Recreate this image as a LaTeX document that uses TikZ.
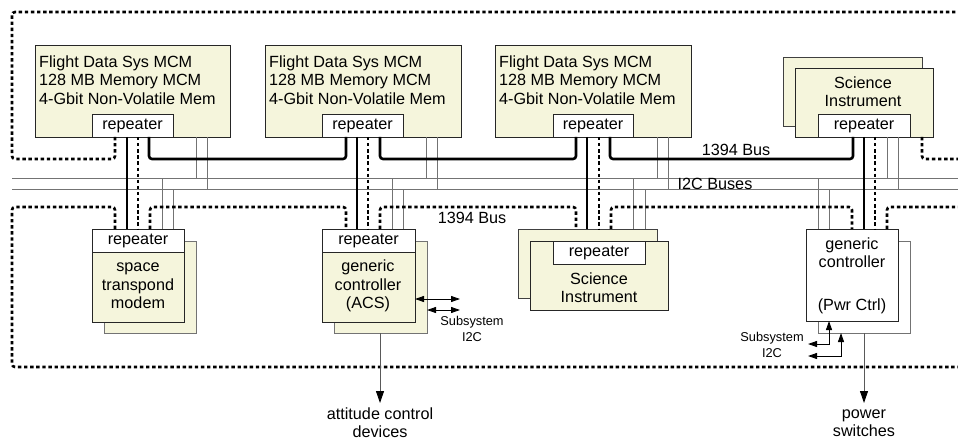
\documentclass[tikz,border=0pt]{standalone}
\usepackage{fontspec}
\setmainfont{Liberation Sans}
\usetikzlibrary{arrows.meta}
\definecolor{cream}{RGB}{245,245,220}
\begin{document}
\begin{tikzpicture}[x=1pt,y=-1pt,
  box/.style={draw=black!85, fill=cream, line width=0.8pt, inner sep=0pt, outer sep=0pt, anchor=north west},
  backbox/.style={box, draw=black!55},
  wbox/.style={box, fill=white},
  wbackbox/.style={box, fill=white, draw=black!55},
  repbox/.style={box, fill=white, font=\fontsize{16.2}{18.3}\selectfont},
  txt/.style={inner sep=0pt, font=\fontsize{16.2}{18.3}\selectfont},
  small/.style={inner sep=0pt, font=\fontsize{12.8}{16}\selectfont, align=center},
  bus/.style={line width=2.6pt, rounded corners=3pt},
  dotbus/.style={line width=2.6pt, dash pattern=on 3.4pt off 2.7pt, rounded corners=3pt},
  i2c/.style={line width=0.9pt, draw=black!55},
  sarrow/.style={line width=0.9pt, <->, >={Triangle[length=9pt,width=6pt]}},
  darrow/.style={line width=0.9pt, draw=black!65, -{Triangle[length=12pt,width=8pt,color=black]}}
]
\useasboundingbox (0,0) rectangle (958,441);

% ---------- top boxes ----------
\node[box, minimum width=195pt, minimum height=92pt] (fds1) at (35,45) {};
\node[box, minimum width=196pt, minimum height=92pt] (fds2) at (265,45) {};
\node[box, minimum width=196pt, minimum height=92pt] (fds3) at (495,45) {};
\node[repbox, minimum width=81pt, minimum height=23pt] (r1) at (92,114) {repeater};
\node[repbox, minimum width=81pt, minimum height=23pt] (r2) at (322,114) {repeater};
\node[repbox, minimum width=80pt, minimum height=23pt] (r3) at (553,114) {repeater};
\node[txt, anchor=west, align=left] (t1) at (39,80) {Flight Data Sys MCM\\128 MB Memory MCM\\4-Gbit Non-Volatile Mem};
\node[txt, anchor=west, align=left] (t2) at (269,80) {Flight Data Sys MCM\\128 MB Memory MCM\\4-Gbit Non-Volatile Mem};
\node[txt, anchor=west, align=left] (t3) at (499,80) {Flight Data Sys MCM\\128 MB Memory MCM\\4-Gbit Non-Volatile Mem};

\node[box, draw=black!75, minimum width=139pt, minimum height=69pt] (sitb) at (783,57) {};
\node[box, minimum width=138pt, minimum height=69pt] (sitf) at (795,68) {};
\node[repbox, minimum width=92pt, minimum height=23pt] (rs) at (818,114) {repeater};
\node[txt, align=center] (tsi) at (863,92) {Science\\Instrument};

% ---------- bottom boxes ----------
\node[backbox, minimum width=92pt, minimum height=92pt] (stb) at (104,241) {};
\node[box, minimum width=92pt, minimum height=93pt] (stf) at (92,229) {};
\node[repbox, minimum width=92pt, minimum height=23pt] (rt) at (92,229) {repeater};
\node[txt, align=center] (tst) at (138,286) {space\\transpond\\modem};

\node[backbox, minimum width=93pt, minimum height=92pt] (acb) at (334,241) {};
\node[box, minimum width=93pt, minimum height=93pt] (acf) at (322,229) {};
\node[repbox, minimum width=93pt, minimum height=23pt] (ra) at (322,229) {repeater};
\node[txt, align=center] (tac) at (368,286) {generic\\controller\\(ACS)};

\node[box, draw=black!75, minimum width=139pt, minimum height=69pt] (sib) at (518,229) {};
\node[box, minimum width=138pt, minimum height=69pt] (sif) at (530,241) {};
\node[repbox, minimum width=92pt, minimum height=23pt] (rb) at (553,241) {repeater};
\node[txt, align=center] (tsb) at (599,288) {Science\\Instrument};

\node[wbackbox, minimum width=92pt, minimum height=92pt] (pwb) at (818,241) {};
\node[wbox, minimum width=92pt, minimum height=92pt] (pw) at (806,229) {};
\node[txt, align=center] (tpw) at (852,253) {generic\\controller};
\node[txt] (tpw2) at (852,306) {(Pwr Ctrl)};

% ---------- I2C buses ----------
\draw[i2c] (12,178) -- (958,178);
\draw[i2c] (12,189) -- (958,189);
\draw[i2c] (196,0 |- fds1.south) -- (196,178);
\draw[i2c] (207,0 |- fds1.south) -- (207,189);
\draw[i2c] (426,0 |- fds2.south) -- (426,178);
\draw[i2c] (437,0 |- fds2.south) -- (437,189);
\draw[i2c] (657,0 |- fds3.south) -- (657,178);
\draw[i2c] (668,0 |- fds3.south) -- (668,189);
\draw[i2c] (887,0 |- rs.south) -- (887,178);
\draw[i2c] (898,0 |- rs.south) -- (898,189);
\draw[i2c] (162,178) -- (162,0 |- rt.north);
\draw[i2c] (173,189) -- (173,0 |- rt.north);
\draw[i2c] (392,178) -- (392,0 |- ra.north);
\draw[i2c] (403,189) -- (403,0 |- ra.north);
\draw[i2c] (633,178) -- (633,0 |- sib.north);
\draw[i2c] (645,189) -- (645,0 |- sib.north);
\draw[i2c] (818,178) -- (818,0 |- pw.north);
\draw[i2c] (829,189) -- (829,0 |- pw.north);

% ---------- 1394 bus (solid) ----------
\draw[bus] (127,0 |- r1.south) -- (127,0 |- rt.north);
\draw[bus] (149,0 |- r1.south) -- (149,159) -- (346,159) -- (346,0 |- r2.south);
\draw[bus] (357,0 |- r2.south) -- (357,0 |- ra.north);
\draw[bus] (380,0 |- r2.south) -- (380,159) -- (576,159) -- (576,0 |- r3.south);
\draw[bus] (587,0 |- r3.south) -- (587,0 |- sib.north);
\draw[bus] (610,0 |- r3.south) -- (610,159) -- (853,159) -- (853,0 |- rs.south);
\draw[bus] (864,0 |- rs.south) -- (864,0 |- pw.north);

% ---------- 1394 bus (dotted) ----------
\draw[dotbus] (115,0 |- r1.south) -- (115,159) -- (12,159) -- (12,12) -- (958,12);
\draw[dotbus] (922,0 |- sitf.south) -- (922,159) -- (958,159);
\draw[dotbus] (138,0 |- r1.south) -- (138,0 |- rt.north);
\draw[dotbus] (368,0 |- r2.south) -- (368,0 |- ra.north);
\draw[dotbus] (599,0 |- r3.south) -- (599,0 |- sib.north);
\draw[dotbus] (875,0 |- rs.south) -- (875,0 |- pw.north);
\draw[dotbus] (115,0 |- rt.north) -- (115,207) -- (12,207) -- (12,367) -- (958,367);
\draw[dotbus] (150,0 |- rt.north) -- (150,207) -- (346,207) -- (346,0 |- ra.north);
\draw[dotbus] (380,0 |- ra.north) -- (380,207) -- (576,207) -- (576,0 |- sib.north);
\draw[dotbus] (611,0 |- sib.north) -- (611,207) -- (852,207) -- (852,0 |- pw.north);
\draw[dotbus] (887,0 |- pw.north) -- (887,207) -- (958,207);

% ---------- bus labels ----------
\node[txt] (l1394a) at (736,150) {1394 Bus};
\node[txt] (li2c) at (715,184) {I2C Buses};
\node[txt] (l1394b) at (472,218) {1394 Bus};

% ---------- subsystem I2C ----------
\draw[sarrow] (acf.east |- 0,299) -- (460,299);
\draw[sarrow] (acb.east |- 0,310) -- (460,310);
\node[small] (sub1) at (472,329) {Subsystem\\I2C};
\draw[sarrow] (808,344) -- (829,344) -- (829,0 |- pw.south);
\draw[sarrow] (808,356) -- (841,356) -- (841,0 |- pwb.south);
\node[small] (sub2) at (772,345) {Subsystem\\I2C};

% ---------- outputs ----------
\coordinate (acout) at (380,403);
\coordinate (pwout) at (864,403);
\draw[darrow] (380,0 |- acb.south) -- (acout);
\draw[darrow] (864,0 |- pwb.south) -- (pwout);
\node[txt, align=center] (lac) at (380,423) {attitude control\\devices};
\node[txt, align=center] (lpw) at (864,423) {power\\switches};
\end{tikzpicture}
\end{document}
